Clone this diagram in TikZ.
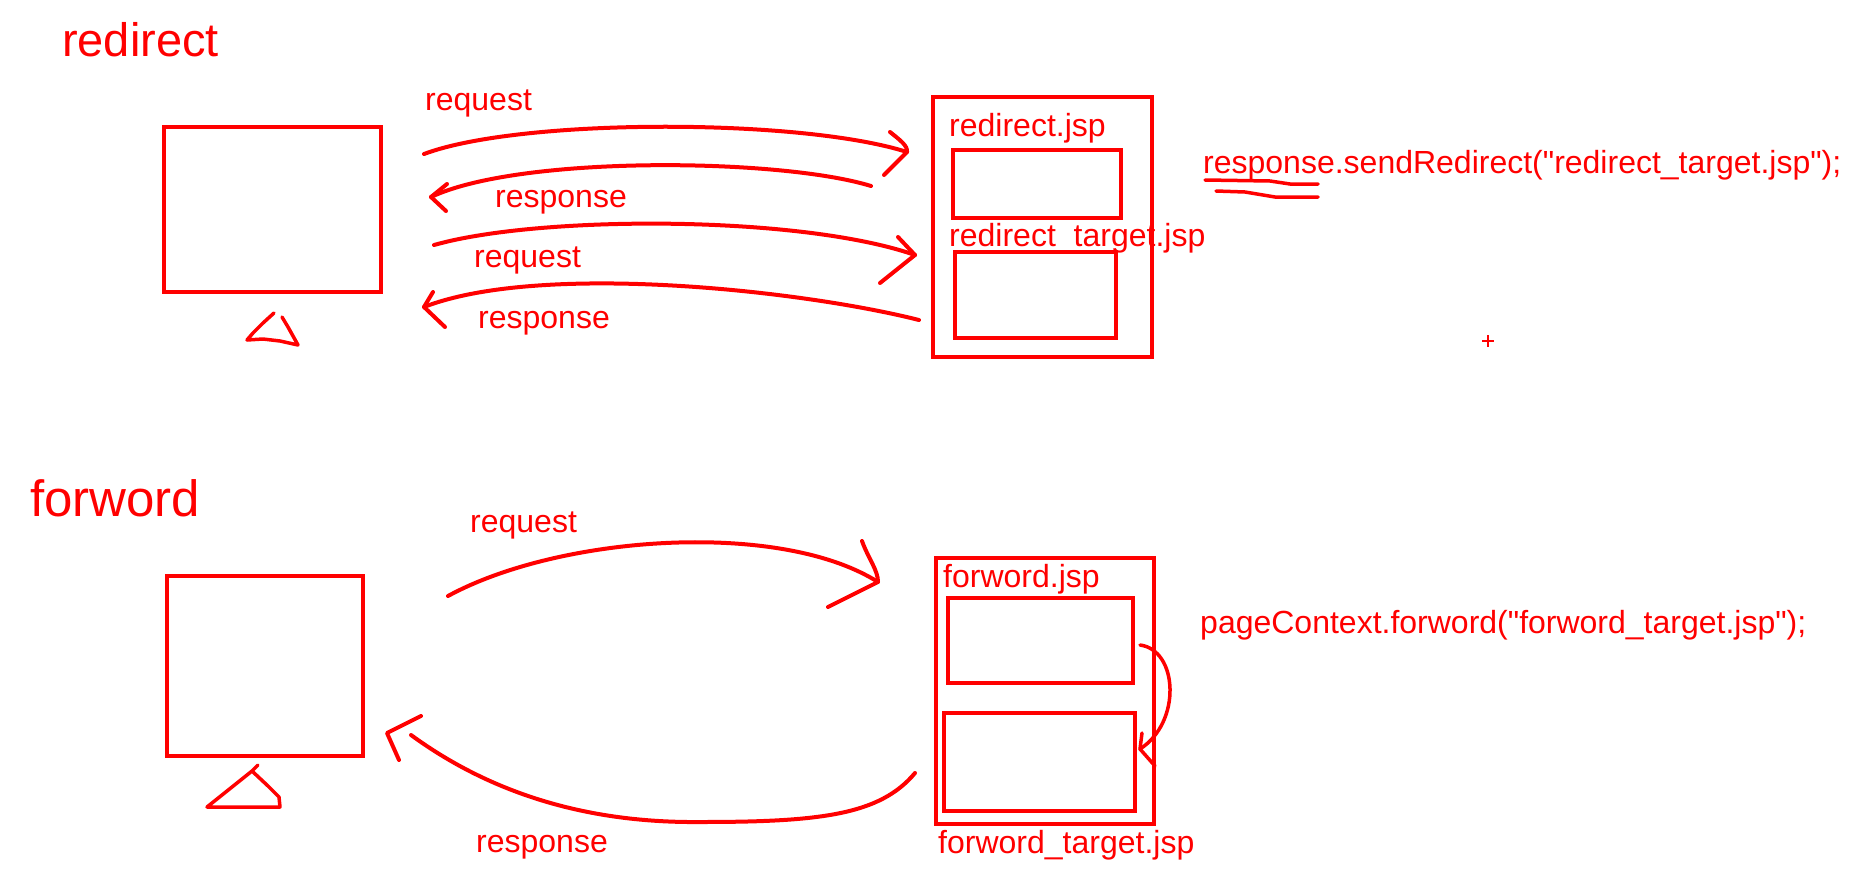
\documentclass[tikz,border=0pt]{standalone}
\usepackage{fontspec}
\setmainfont{Liberation Sans}[Ligatures=TeXOff]
\definecolor{pen}{RGB}{255,0,0}
\tikzset{
  stroke/.style={draw=pen, line width=4pt, line cap=round, line join=round},
  boxnode/.style={draw=pen, line width=4pt, anchor=north west, inner sep=0pt, outer sep=0pt},
  lbl/.style={text=pen, font=\fontsize{32}{38}\selectfont, inner sep=0pt, anchor=base west},
  ttl/.style={text=pen, inner sep=0pt, anchor=base west},
}
\begin{document}
\begin{tikzpicture}[x=1pt,y=-1pt]
\useasboundingbox (0,0) rectangle (1850,881);

% ---------------- redirect ----------------
\node[ttl, font=\fontsize{47}{56}\selectfont] (tred) at (62,56) {redirect};

\node[boxnode, minimum width=217pt, minimum height=165pt] (c1) at (164,127) {};
\draw[stroke, line width=3.5pt] (274,313) -- (263,323) -- (253,333) -- (247,340) -- (263,339) -- (280,341) -- (298,345) -- (293,336) -- (288,327) -- (282,317);

\node[boxnode, minimum width=219pt, minimum height=260pt] (s1) at (933,97) {};
\node[boxnode, minimum width=168pt, minimum height=68pt] (s1a) at (953,150) {};
\node[boxnode, minimum width=161pt, minimum height=86pt] (s1b) at (955,252) {};
\node[lbl] (l1a) at (949,136) {redirect.jsp};
\node[lbl] (l1b) at (949,246) {redirect\_target.jsp};

% arrows
\coordinate (rq1s) at (424,154);
\coordinate (rq1e) at (907,152);
\coordinate (rq1u) at (890,132);
\coordinate (rq1l) at (884,175);
\draw[stroke] (rq1s) .. controls (520,118) and (800,118) .. (rq1e);
\draw[stroke] (rq1u) .. controls (900,140) and (908,146) .. (rq1e) -- (rq1l);

\coordinate (rs1s) at (871,186);
\coordinate (rs1e) at (431,197);
\coordinate (rs1u) at (447,184);
\coordinate (rs1l) at (446,211);
\draw[stroke] (rs1s) .. controls (780,158) and (520,155) .. (rs1e);
\draw[stroke] (rs1u) -- (rs1e) -- (rs1l);

\coordinate (rq2s) at (434,245);
\coordinate (rq2e) at (915,255);
\coordinate (rq2u) at (898,237);
\coordinate (rq2l) at (880,283);
\draw[stroke] (rq2s) .. controls (540,215) and (800,215) .. (rq2e);
\draw[stroke] (rq2u) -- (rq2e) -- (rq2l);

\coordinate (rs2s) at (919,320);
\coordinate (rs2e) at (424,307);
\coordinate (rs2u) at (433,292);
\coordinate (rs2l) at (445,327);
\draw[stroke] (rs2s) .. controls (800,290) and (540,262) .. (rs2e);
\draw[stroke] (rs2u) -- (rs2e) -- (rs2l);

\node[lbl] (q1) at (425,110) {request};
\node[lbl] (p1) at (495,207) {response};
\node[lbl] (q2) at (474,267) {request};
\node[lbl] (p2) at (478,328) {response};

\node[lbl] (code1) at (1203,173) {response.sendRedirect("redirect\_target.jsp");};
\draw[stroke, line width=3.5pt] (1205,180) -- (1270,181) -- (1290,184) -- (1318,184);
\draw[stroke, line width=3.5pt] (1216,191) -- (1245,192) -- (1275,197) -- (1318,197);

\draw[pen, line width=2pt] (1482,341) -- (1494,341) (1488,335) -- (1488,347);

% ---------------- forword ----------------
\node[ttl, font=\fontsize{51}{60}\selectfont] (tfw) at (30,516) {forword};

\node[boxnode, minimum width=196pt, minimum height=180pt] (c2) at (167,576) {};
\draw[stroke, line width=3.5pt] (258,765) -- (252,771) -- (207,807) -- (280,807) -- (279,797) -- (268,786) -- (252,771);

\node[boxnode, minimum width=218pt, minimum height=266pt] (s2) at (936,558) {};
\node[boxnode, minimum width=185pt, minimum height=85pt] (s2a) at (948,598) {};
\node[boxnode, minimum width=191pt, minimum height=98pt] (s2b) at (944,713) {};
\node[lbl] (l2a) at (943,587) {forword.jsp};
\node[lbl] (l2b) at (938,853) {forword\_target.jsp};

\coordinate (fqs) at (448,596);
\coordinate (fqe) at (878,582);
\coordinate (fqu) at (862,541);
\coordinate (fql) at (828,607);
\draw[stroke] (fqs) .. controls (560,535) and (780,520) .. (fqe);
\draw[stroke] (fqu) .. controls (868,558) and (878,570) .. (fqe) -- (fql);

\coordinate (fps) at (915,773);
\coordinate (fpm) at (700,822);
\coordinate (fpe) at (411,735);
\coordinate (fph) at (387,733);
\coordinate (fpu) at (421,716);
\coordinate (fpl) at (399,760);
\draw[stroke] (fps) .. controls (880,815) and (820,822) .. (fpm) .. controls (600,823) and (500,800) .. (fpe);
\draw[stroke] (fpu) -- (fph) -- (fpl);

\coordinate (fis) at (1140,645);
\coordinate (fie) at (1140,749);
\coordinate (fiu) at (1142,733);
\coordinate (fil) at (1155,766);
\draw[stroke, line width=3.5pt] (fis) .. controls (1178,650) and (1182,722) .. (fie);
\draw[stroke, line width=3.5pt] (fiu) -- (fie) -- (fil);

\node[lbl] (fq) at (470,532) {request};
\node[lbl] (fp) at (476,852) {response};

\node[lbl] (code2) at (1200,633) {pageContext.forword("forword\_target.jsp");};

\end{tikzpicture}
\end{document}
